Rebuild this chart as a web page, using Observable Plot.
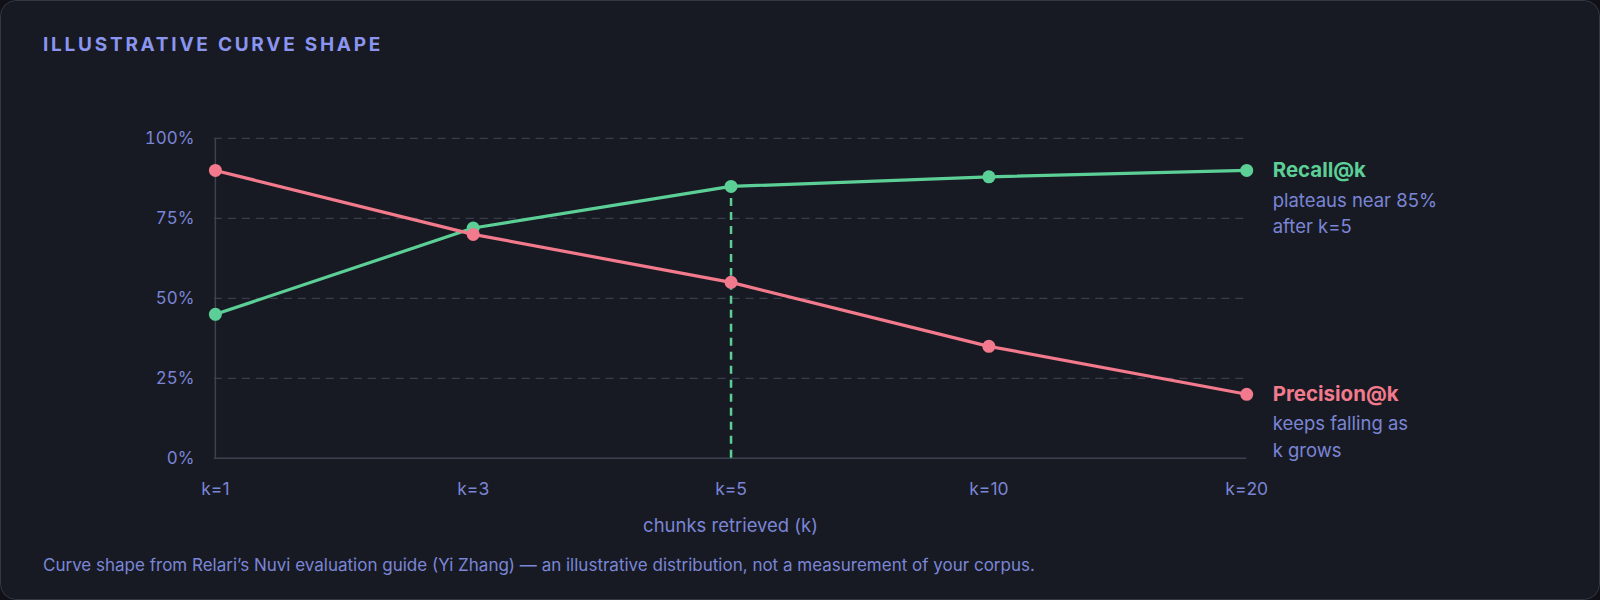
<!DOCTYPE html>
<html><head><meta charset="utf-8">
<script src="https://cdn.jsdelivr.net/npm/d3@7"></script>
<script src="https://cdn.jsdelivr.net/npm/@observablehq/plot@0.6"></script>
<style>
html,body{margin:0;background:#0f1116;}
#card{position:relative;width:1600px;height:600px;box-sizing:border-box;background:#171a23;border:1px solid #323744;border-radius:16px;overflow:hidden;font-family:Inter,"Liberation Sans",sans-serif;}
#title{position:absolute;left:42px;top:32px;font-size:19px;font-weight:700;letter-spacing:0.145em;color:#8b95ef;line-height:24px;white-space:nowrap}
#chart{position:absolute;left:-1px;top:79px}
#caption{position:absolute;left:42px;top:552px;font-size:17px;color:#7b86d6;line-height:24px;white-space:nowrap}
</style></head>
<body>
<div id="card">
  <div id="title"></div>
  <div id="chart"></div>
  <div id="caption"></div>
</div>
<script>
const titleText = "ILLUSTRATIVE CURVE SHAPE";
const captionText = "Curve shape from Relari’s Nuvi evaluation guide (Yi Zhang) — an illustrative distribution, not a measurement of your corpus.";
const xLabel = "chunks retrieved (k)";
const ks = ["k=1", "k=3", "k=5", "k=10", "k=20"];
const recall = [45, 72, 85, 88, 90];
const precision = [90, 70, 55, 35, 20];
const yTicks = [0, 25, 50, 75, 100];
const seriesNames = ["Recall@k", "Precision@k"];
const seriesNotes = ["plateaus near 85%\nafter k=5", "keeps falling as\nk grows"];
const markerK = "k=5";

const COLORS = {recall: "#5ccf96", precision: "#f27a8c", text: "#7b85d6", grid: "#3a3e4c", axis: "#3d4250"};
const FONT = 'Inter, "Liberation Sans", sans-serif';

document.getElementById("title").textContent = titleText;
document.getElementById("caption").textContent = captionText;

const series = [
  {name: seriesNames[0], note: seriesNotes[0], values: recall, color: COLORS.recall},
  {name: seriesNames[1], note: seriesNotes[1], values: precision, color: COLORS.precision}
];

const marks = [
  Plot.gridY(yTicks.filter(d => d > 0), {stroke: COLORS.grid, strokeOpacity: 1, strokeDasharray: "8,6", strokeWidth: 1.2}),
  Plot.ruleX([ks[0]], {stroke: COLORS.axis, strokeWidth: 1.5}),
  Plot.ruleY([0], {stroke: COLORS.axis, strokeWidth: 1.5}),
  Plot.axisY({ticks: yTicks, tickSize: 0, tickPadding: 20, tickFormat: d => d + "%", label: null, fontSize: 17}),
  Plot.axisX({tickSize: 0, tickPadding: 24, label: null, fontSize: 17.5}),
  Plot.ruleX([markerK], {y1: 0, y2: recall[ks.indexOf(markerK)], stroke: COLORS.recall, strokeWidth: 2.5, strokeDasharray: "8,6"}),
  Plot.text([xLabel], {frameAnchor: "bottom", dy: 74, fontSize: 18.5, fill: COLORS.text})
];
for (const s of series) {
  const data = ks.map((k, i) => ({k, v: s.values[i]}));
  const last = [data[data.length - 1]];
  marks.push(
    Plot.line(data, {x: "k", y: "v", stroke: s.color, strokeWidth: 3.2}),
    Plot.dot(data, {x: "k", y: "v", r: 6.5, fill: s.color}),
    Plot.text(last, {x: "k", y: "v", text: () => s.name, dx: 26, textAnchor: "start", fill: s.color, fontWeight: 700, fontSize: 20.5}),
    Plot.text(last, {x: "k", y: "v", text: () => s.note, dx: 26, dy: 41, textAnchor: "start", lineAnchor: "middle", lineHeight: 1.44, fill: COLORS.text, fontSize: 18.5})
  );
}

const chart = Plot.plot({
  width: 1600, height: 460,
  marginLeft: 214, marginRight: 353, marginTop: 58, marginBottom: 82,
  style: {background: "transparent", color: COLORS.text, fontFamily: FONT, fontSize: "17px", overflow: "visible"},
  x: {type: "point", domain: ks, padding: 0},
  y: {domain: [0, 100]},
  marks
});
document.getElementById("chart").appendChild(chart);
</script>
</body></html>
